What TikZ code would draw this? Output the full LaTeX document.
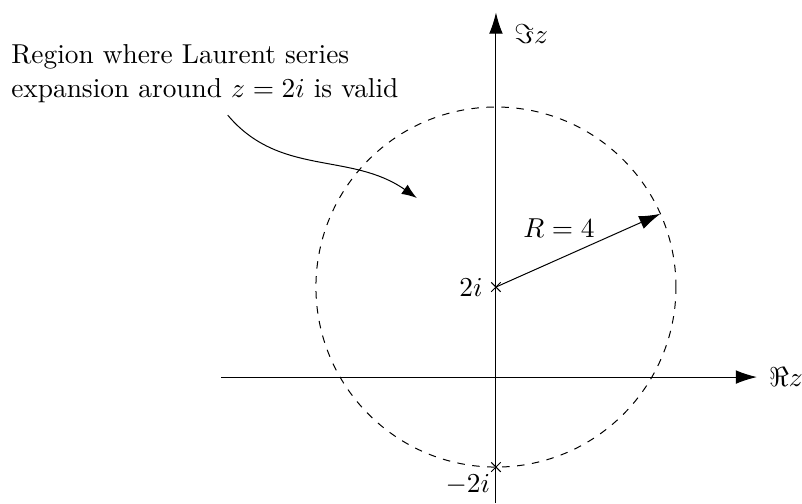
\documentclass[tikz,border=0pt,11pt]{standalone}
\usepackage{amssymb}
\usetikzlibrary{arrows.meta, positioning, shapes.misc}

\begin{document}
\begin{tikzpicture}[>={Latex[length=8.5pt, width=5.5pt]}, scale=0.633,
    pt/.style={cross out, draw, minimum size=3.4pt, inner sep=0pt}]
  \useasboundingbox (-11.02,-2.8) rectangle (6.8,8.378);

  % axes
  \coordinate (xl) at (-6.1,0);
  \coordinate (xr) at (5.8,0);
  \coordinate (yb) at (0,-2.8);
  \coordinate (yt) at (0,8.1);
  \draw[->] (xl) -- (xr) node[right=1pt] {$\Re z$};
  \draw[->] (yb) -- (yt) node[right=3.5pt, yshift=-8.5pt] {$\Im z$};

  % points and circle
  \node[pt] (c) at (0,2) {};
  \node[pt] (m) at (0,-2) {};
  \node[left=1.5pt of c.center] (lc) {$2i$};
  \node[anchor=north east, xshift=1.5pt, yshift=1pt] (lm) at (m.center) {$-2i$};
  \draw[dashed] (0,2) circle (4);

  \coordinate (rim) at ([shift={(24:4)}]0,2);
  \draw[->] (c.center) -- (rim);
  \node (R) at (1.4,3.31) {$R=4$};

  % label with curved arrow
  \node[align=left, anchor=north west, inner sep=0pt] (region) at (-10.78,7.40)
    {Region where Laurent series\\expansion around $z=2i$ is valid};
  \coordinate (tail) at (-5.96,5.82);
  \coordinate (head) at (-1.76,3.98);
  \draw[-{Latex[length=6pt, width=4.5pt]}] (tail) to[out=-50, in=145] (head);
\end{tikzpicture}
\end{document}
